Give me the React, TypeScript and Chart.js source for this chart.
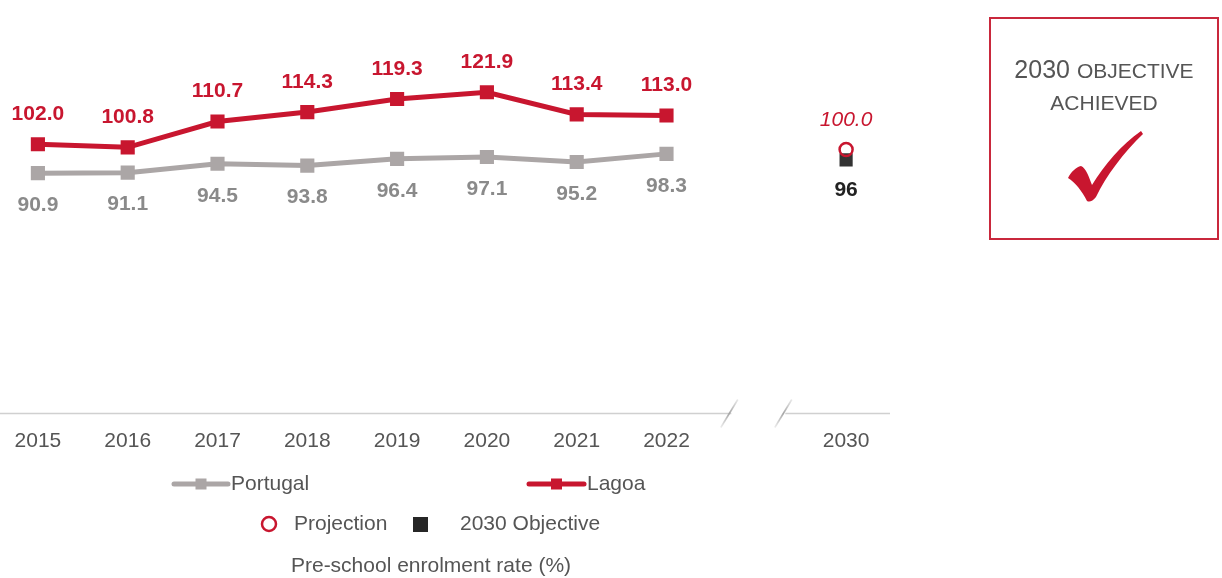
import React, { useEffect, useRef } from "react";
import { Chart, registerables } from "chart.js";

Chart.register(...registerables);

const categories = ["2015", "2016", "2017", "2018", "2019", "2020", "2021", "2022", "", "2030"];
const portugal = [90.9, 91.1, 94.5, 93.8, 96.4, 97.1, 95.2, 98.3, null, null];
const lagoa = [102.0, 100.8, 110.7, 114.3, 119.3, 121.9, 113.4, 113.0, null, null];
const projection = [null, null, null, null, null, null, null, null, null, 100.0];
const objective = [null, null, null, null, null, null, null, null, null, 96];

const RED = "#C8162F";
const GRAY = "#ABA6A6";
const LABEL_GRAY = "#8A8A8A";
const TEXT = "#555555";
const FONT = "'Liberation Sans', Arial, sans-serif";
const OFFX = 7; // canvas starts 7px left of the window

const overlay = {
  id: "overlay",
  afterDatasetsDraw(chart: any) {
    const ctx = chart.ctx;
    const area = chart.chartArea;
    const xs = chart.scales.x;
    ctx.save();
    // data labels
    const drawLabels = (dsIndex: number, color: string, font: string, dy: number, fmt: (v: number) => string) => {
      const meta = chart.getDatasetMeta(dsIndex);
      const data = chart.data.datasets[dsIndex].data;
      meta.data.forEach((pt: any, i: number) => {
        const v = data[i];
        if (v === null || v === undefined) return;
        ctx.fillStyle = color;
        ctx.font = font;
        ctx.textAlign = "center";
        ctx.textBaseline = "middle";
        ctx.fillText(fmt(v), pt.x, pt.y + dy);
      });
    };
    drawLabels(0, RED, `bold 21px ${FONT}`, -30, (v) => v.toFixed(1));
    drawLabels(1, LABEL_GRAY, `bold 21px ${FONT}`, 32, (v) => v.toFixed(1));
    drawLabels(2, RED, `italic 21px ${FONT}`, -29, (v) => v.toFixed(1));
    drawLabels(3, "#222222", `bold 21px ${FONT}`, 30, (v) => String(v));

    // axis line with break
    const y0 = area.bottom + 3;
    const gapC = xs.getPixelForValue(8);
    ctx.strokeStyle = "#D0D0D0";
    ctx.lineWidth = 1.5;
    ctx.beginPath();
    ctx.moveTo(0, y0);
    ctx.lineTo(gapC - 25, y0);
    ctx.moveTo(gapC + 29, y0);
    ctx.lineTo(area.right - 1, y0);
    ctx.stroke();
    [gapC - 27, gapC + 27].forEach((x) => {
      const g = ctx.createLinearGradient(x + 8.5, y0 - 14, x - 8.5, y0 + 14);
      g.addColorStop(0, "rgba(180,180,180,0.3)");
      g.addColorStop(0.5, "rgba(165,165,165,1)");
      g.addColorStop(1, "rgba(180,180,180,0.25)");
      ctx.strokeStyle = g;
      ctx.lineWidth = 1.6;
      ctx.beginPath();
      ctx.moveTo(x + 8.5, y0 - 14);
      ctx.lineTo(x - 8.5, y0 + 14);
      ctx.stroke();
    });

    // legend row 1
    const lineItem = (x1: number, x2: number, y: number, color: string, label: string) => {
      ctx.strokeStyle = color;
      ctx.lineWidth = 5;
      ctx.lineCap = "round";
      ctx.beginPath();
      ctx.moveTo(x1 + OFFX, y);
      ctx.lineTo(x2 + OFFX, y);
      ctx.stroke();
      ctx.fillStyle = color;
      const cx = (x1 + x2) / 2 + OFFX;
      ctx.fillRect(cx - 5.5, y - 5.5, 11, 11);
      ctx.fillStyle = TEXT;
      ctx.font = `21px ${FONT}`;
      ctx.textAlign = "left";
      ctx.textBaseline = "middle";
      ctx.fillText(label, x2 + 3 + OFFX, y);
    };
    lineItem(174, 228, 484, GRAY, "Portugal");
    lineItem(529, 584, 484, RED, "Lagoa");

    // legend row 2
    ctx.strokeStyle = RED;
    ctx.lineWidth = 2.5;
    ctx.beginPath();
    ctx.arc(269 + OFFX, 524, 7, 0, Math.PI * 2);
    ctx.stroke();
    ctx.fillStyle = TEXT;
    ctx.font = `21px ${FONT}`;
    ctx.textAlign = "left";
    ctx.textBaseline = "middle";
    ctx.fillText("Projection", 294 + OFFX, 524);
    ctx.fillStyle = "#262626";
    ctx.fillRect(413 + OFFX, 517, 15, 15);
    ctx.fillStyle = TEXT;
    ctx.fillText("2030 Objective", 460 + OFFX, 524);

    // title
    ctx.textAlign = "center";
    ctx.fillText("Pre-school enrolment rate (%)", 431 + OFFX, 566);

    // objective box
    ctx.strokeStyle = "#C9283C";
    ctx.lineWidth = 2;
    ctx.strokeRect(990 + OFFX, 18, 228, 221);
    ctx.fillStyle = TEXT;
    ctx.textBaseline = "alphabetic";
    ctx.textAlign = "left";
    ctx.font = `25px ${FONT}`;
    const w1 = ctx.measureText("2030 ").width;
    ctx.font = `21px ${FONT}`;
    const w2 = ctx.measureText("OBJECTIVE").width;
    const sx = 1104 + OFFX - (w1 + w2) / 2;
    ctx.font = `25px ${FONT}`;
    ctx.fillText("2030 ", sx, 78);
    ctx.font = `21px ${FONT}`;
    ctx.fillText("OBJECTIVE", sx + w1, 78);
    ctx.textAlign = "center";
    ctx.fillText("ACHIEVED", 1104 + OFFX, 110);

    // check mark
    ctx.fillStyle = "#C8162F";
    ctx.translate(OFFX, 0);
    ctx.beginPath();
    ctx.moveTo(1068, 178);
    ctx.bezierCurveTo(1071, 172, 1076, 167, 1081, 166);
    ctx.bezierCurveTo(1086, 168, 1089, 177, 1092, 185);
    ctx.bezierCurveTo(1105, 164, 1121, 145, 1141, 131);
    ctx.lineTo(1143, 134);
    ctx.bezierCurveTo(1124, 152, 1106, 176, 1096, 197);
    ctx.quadraticCurveTo(1091, 203, 1087, 201);
    ctx.bezierCurveTo(1082, 191, 1075, 182, 1068, 178);
    ctx.closePath();
    ctx.fill();
    ctx.restore();
  },
};

export default function App() {
  const ref = useRef<HTMLCanvasElement | null>(null);
  useEffect(() => {
    if (!ref.current) return;
    const chart = new Chart(ref.current, {
      type: "line",
      data: {
        labels: categories,
        datasets: [
          {
            label: "Lagoa",
            data: lagoa,
            borderColor: RED,
            backgroundColor: RED,
            borderWidth: 5,
            pointStyle: "rect",
            pointRadius: 10,
            pointBorderWidth: 0,
            spanGaps: false,
          },
          {
            label: "Portugal",
            data: portugal,
            borderColor: GRAY,
            backgroundColor: GRAY,
            borderWidth: 5,
            pointStyle: "rect",
            pointRadius: 10,
            pointBorderWidth: 0,
          },
          {
            label: "Projection",
            data: projection,
            showLine: false,
            pointStyle: "circle",
            pointRadius: 6.5,
            pointBorderWidth: 2.5,
            borderColor: RED,
            backgroundColor: "rgba(255,255,255,0)",
          },
          {
            label: "2030 Objective",
            data: objective,
            showLine: false,
            pointStyle: "rect",
            pointRadius: 9.3,
            pointBorderWidth: 0,
            borderColor: "#333333",
            backgroundColor: "#333333",
          },
        ],
      },
      options: {
        animation: false,
        responsive: false,
        maintainAspectRatio: false,
        layout: { autoPadding: false, padding: { top: 45, left: 0, right: 331, bottom: 0 } },
        plugins: { legend: { display: false }, tooltip: { enabled: false } },
        scales: {
          x: {
            offset: true,
            grid: { display: false, drawTicks: false },
            border: { display: false },
            ticks: {
              color: TEXT,
              font: { family: FONT, size: 21 },
              padding: 18,
              maxRotation: 0,
              autoSkip: false,
            },
            afterFit: (scale: any) => {
              scale.height = 167.5;
              scale.paddingLeft = 0;
              scale.paddingRight = 0;
            },
          },
          y: { display: false, min: 0, max: 140 },
        },
      },
      plugins: [overlay],
    });
    return () => chart.destroy();
  }, []);
  return (
    <div style={{ position: "fixed", top: 0, left: -OFFX, width: 1222 + OFFX, height: 578, background: "#fff" }}>
      <canvas ref={ref} width={1222 + OFFX} height={578} style={{ display: "block" }} />
    </div>
  );
}
